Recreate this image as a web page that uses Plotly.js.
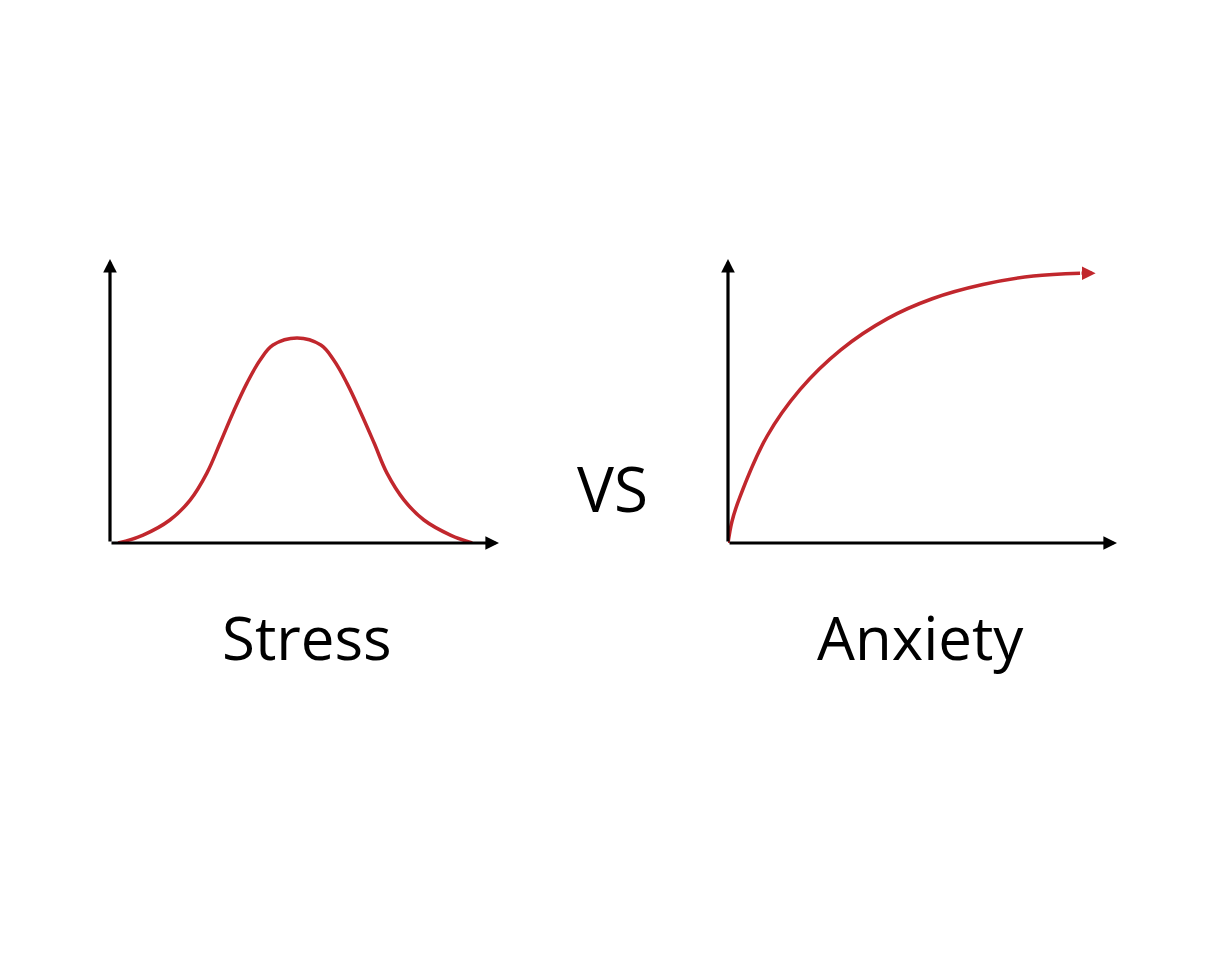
<!DOCTYPE html>
<html>
<head>
<meta charset="utf-8">
<script src="https://cdn.plot.ly/plotly-3.0.1.min.js"></script>
<style>html,body{margin:0;padding:0;background:#fff;}#chart{width:1225px;height:980px;}</style>
</head>
<body>
<div id="chart"></div>
<script>
// Stress curve (bell-shaped)
const stressX = [0.21, 0.85, 1.54, 2.06, 2.49, 2.83, 3.16, 3.52, 3.86, 4.19, 4.81, 5.42, 5.75, 6.09, 6.45, 6.79, 7.12, 7.56, 8.07, 8.75, 9.31];
const stressY = [0, 0.28, 0.81, 1.51, 2.46, 3.52, 4.58, 5.63, 6.44, 6.97, 7.22, 6.97, 6.44, 5.63, 4.58, 3.52, 2.46, 1.51, 0.81, 0.28, 0];
// Anxiety curve (rising, saturating)
const anxietyX = [0, 0.1, 0.3, 1.0, 1.85, 2.9, 4.1, 5.25, 6.55, 7.85, 9.05];
const anxietyY = [0, 0.75, 1.6, 3.75, 5.4, 6.8, 7.9, 8.6, 9.1, 9.4, 9.5];
const anxietyArrowTipX = 9.45;
// Labels
const labels = ["Stress", "VS", "Anxiety"];
const axisMax = 10;

const RED = '#c1272d';
const BLACK = '#000000';
const W = 1225, H = 980;
const px = v => v / W;
const py = v => 1 - v / H;

const traces = [
  {x: stressX, y: stressY, xaxis: 'x', yaxis: 'y', mode: 'lines',
   line: {color: RED, width: 3.5, shape: 'spline', smoothing: 1.1, simplify: false}, hoverinfo: 'skip', showlegend: false},
  {x: anxietyX, y: anxietyY, xaxis: 'x2', yaxis: 'y2', mode: 'lines',
   line: {color: RED, width: 3.5, shape: 'spline', smoothing: 1, simplify: false}, hoverinfo: 'skip', showlegend: false}
];

function arrow(xr, yr, x0, y0, x1, y1, color) {
  return {xref: xr, yref: yr, axref: xr, ayref: yr, x: x1, y: y1, ax: x0, ay: y0,
    text: '', showarrow: true, arrowhead: 2, arrowsize: 0.85, arrowwidth: 3.2,
    arrowcolor: color, standoff: 0, startstandoff: 0};
}

const font = {family: '"Open Sans", "Noto Sans", sans-serif', size: 60, color: '#000000'};
const annotations = [
  arrow('x', 'y', 0, 0, axisMax, 0, BLACK),
  arrow('x', 'y', 0, 0, 0, axisMax, BLACK),
  arrow('x2', 'y2', 0, 0, axisMax, 0, BLACK),
  arrow('x2', 'y2', 0, 0, 0, axisMax, BLACK),
  arrow('x2', 'y2', anxietyX[anxietyX.length - 1], anxietyY[anxietyY.length - 1],
        anxietyArrowTipX, anxietyY[anxietyY.length - 1], RED),
  {xref: 'paper', yref: 'paper', x: px(307), y: py(637), text: labels[0], showarrow: false,
   xanchor: 'center', yanchor: 'middle', font: font},
  {xref: 'paper', yref: 'paper', x: px(612), y: py(488), text: labels[1], showarrow: false,
   xanchor: 'center', yanchor: 'middle', font: Object.assign({}, font, {size: 62})},
  {xref: 'paper', yref: 'paper', x: px(920), y: py(637), text: labels[2], showarrow: false,
   xanchor: 'center', yanchor: 'middle', font: font}
];

const hidden = {visible: false, range: [0, axisMax], fixedrange: true};
const layout = {
  width: W, height: H,
  margin: {l: 0, r: 0, t: 0, b: 0},
  paper_bgcolor: '#ffffff', plot_bgcolor: 'rgba(0,0,0,0)',
  showlegend: false,
  xaxis: Object.assign({}, hidden, {domain: [px(110), px(499)]}),
  yaxis: Object.assign({}, hidden, {domain: [py(543), py(259)]}),
  xaxis2: Object.assign({}, hidden, {domain: [px(728), px(1117)], anchor: 'y2'}),
  yaxis2: Object.assign({}, hidden, {domain: [py(543), py(259)], anchor: 'x2'}),
  annotations: annotations
};

Plotly.newPlot('chart', traces, layout, {displayModeBar: false, staticPlot: true});
</script>
</body>
</html>
